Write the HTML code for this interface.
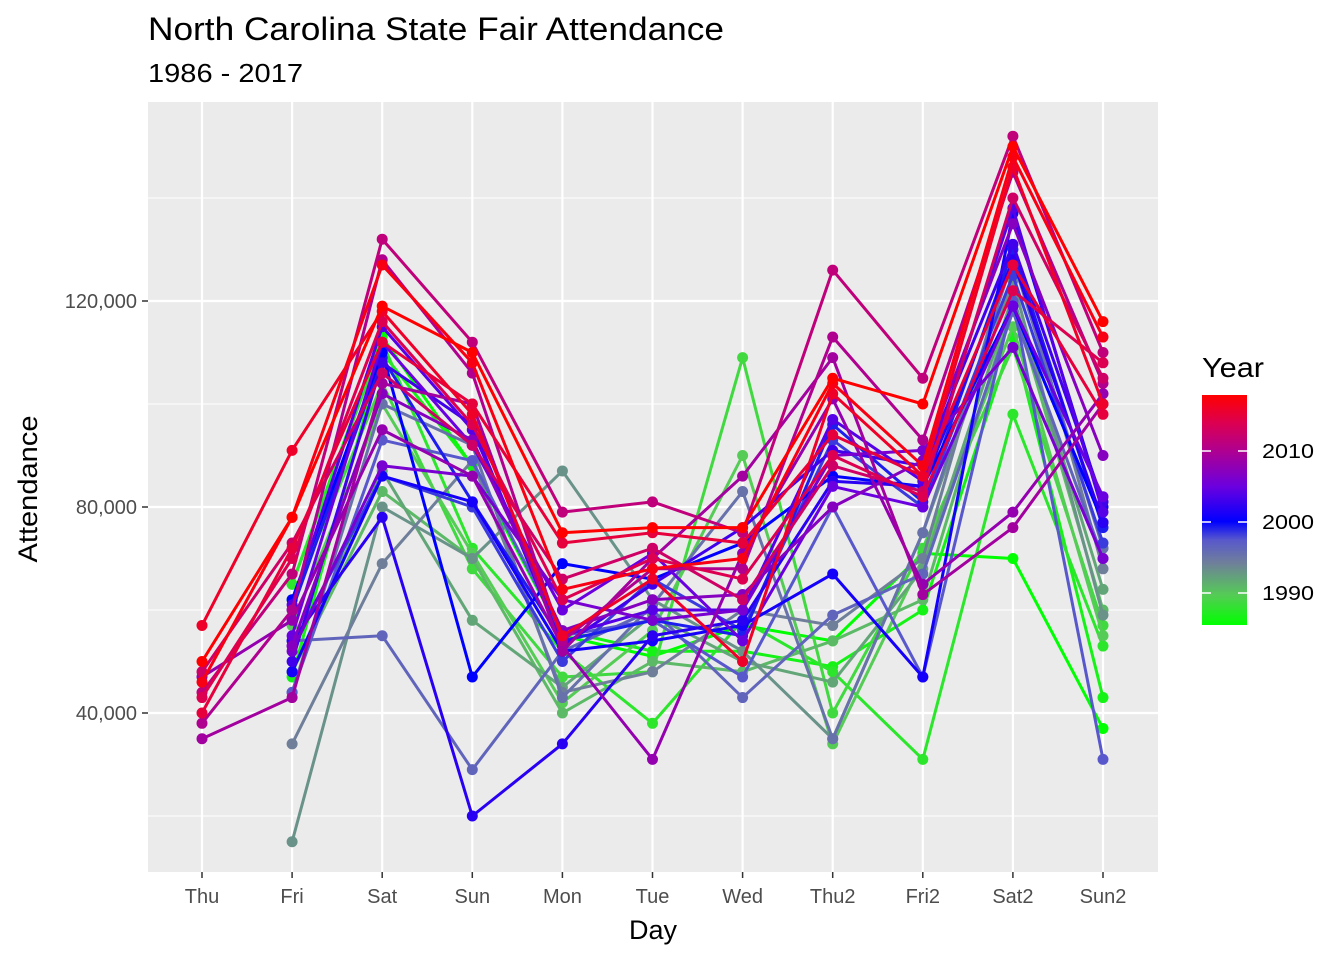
<!DOCTYPE html>
<html><head><meta charset="utf-8"><style>
body{margin:0;background:#fff;font-family:"Liberation Sans",Arial,sans-serif;}
</style></head><body>
<svg id="chart" width="1344" height="960" xmlns="http://www.w3.org/2000/svg" font-family="Liberation Sans, Arial, sans-serif">
<text x="148" y="40" font-size="32" fill="#000" textLength="576" lengthAdjust="spacingAndGlyphs">North Carolina State Fair Attendance</text>
<text x="148" y="82" font-size="26" fill="#000" textLength="155" lengthAdjust="spacingAndGlyphs">1986 - 2017</text>
<rect x="148" y="102" width="1010" height="770" fill="#ebebeb"/>
<g id="grid"></g>
<g id="series"></g>
<g id="axes"></g>
<text x="653" y="939" font-size="27" text-anchor="middle">Day</text>
<text transform="translate(37,489) rotate(-90)" font-size="27" text-anchor="middle" textLength="147" lengthAdjust="spacingAndGlyphs">Attendance</text>
<g>
<text x="1202" y="377" font-size="28" textLength="62" lengthAdjust="spacingAndGlyphs">Year</text>
<defs><linearGradient id="lg" x1="0" y1="1" x2="0" y2="0">
<stop offset="0" stop-color="#00ff00"/><stop offset="0.13" stop-color="#55cc55"/><stop offset="0.27" stop-color="#6f7f9a"/><stop offset="0.37" stop-color="#5858cc"/><stop offset="0.45" stop-color="#0000ff"/><stop offset="0.6" stop-color="#6a00e0"/><stop offset="0.76" stop-color="#b0008f"/><stop offset="0.88" stop-color="#dd0050"/><stop offset="1" stop-color="#ff0000"/></linearGradient></defs>
<rect x="1202" y="395" width="45" height="230" fill="url(#lg)"/>
<text x="1262" y="458" font-size="20" fill="#000" textLength="52" lengthAdjust="spacingAndGlyphs">2010</text>
<text x="1262" y="529" font-size="20" fill="#000" textLength="52" lengthAdjust="spacingAndGlyphs">2000</text>
<text x="1262" y="600" font-size="20" fill="#000" textLength="52" lengthAdjust="spacingAndGlyphs">1990</text>
<line x1="1202" x2="1211" y1="451" y2="451" stroke="#fff" stroke-width="1.5"/><line x1="1238" x2="1247" y1="451" y2="451" stroke="#fff" stroke-width="1.5"/>
<line x1="1202" x2="1211" y1="522" y2="522" stroke="#fff" stroke-width="1.5"/><line x1="1238" x2="1247" y1="522" y2="522" stroke="#fff" stroke-width="1.5"/>
<line x1="1202" x2="1211" y1="593" y2="593" stroke="#fff" stroke-width="1.5"/><line x1="1238" x2="1247" y1="593" y2="593" stroke="#fff" stroke-width="1.5"/>
</g>
</svg>
<script>
const days=["Thu","Fri","Sat","Sun","Mon","Tue","Wed","Thu2","Fri2","Sat2","Sun2"];
const yTicks=[40000,80000,120000];
const yTickLabels=["40,000","80,000","120,000"];
const yMinor=[20000,60000,100000,140000];
const years=[1986,1987,1988,1989,1990,1991,1992,1993,1994,1995,1996,1997,1998,1999,2000,2001,2002,2003,2004,2005,2006,2007,2008,2009,2010,2011,2012,2013,2014,2015,2016,2017];
const attendance=[
[null,65,113,88,55,51,57,54,71,70,37],
[null,47,110,88,56,52,52,49,60,113,43],
[null,65,112,72,52,38,58,48,31,98,53],
[null,62,104,68,47,48,109,40,72,111,57],
[null,57,100,71,42,56,90,34,70,115,55],
[null,48,83,70,40,50,48,54,62,120,60],
[null,48,87,58,45,59,50,46,68,121,64],
[null,15,80,70,87,62,52,35,75,124,59],
[null,34,69,89,44,48,60,57,70,131,68],
[null,44,100,92,43,61,83,35,75,128,72],
[null,54,55,29,52,60,43,59,67,118,70],
[null,44,93,89,55,58,47,80,47,120,31],
[null,53,86,80,50,66,56,93,80,125,73],
[null,60,109,81,54,58,55,96,81,130,76],
[null,62,110,47,69,66,73,86,84,119,77],
[null,48,86,81,52,54,57,67,47,137,80],
[null,54,78,20,34,55,58,85,84,128,77],
[null,50,108,96,53,65,76,91,88,131,81],
[null,61,115,95,55,60,60,97,85,138,79],
[null,55,112,92,60,71,54,84,80,119,82],
[null,52,88,86,62,58,60,90,91,111,70],
[null,53,102,93,56,62,63,80,89,135,90],
[47,58,95,86,53,31,71,101,65,79,102],
[35,43,104,100,52,70,86,109,63,76,100],
[38,60,128,106,54,68,68,113,93,145,104],
[44,67,132,112,79,81,75,126,105,152,110],
[48,73,106,92,66,72,62,88,83,140,105],
[43,70,116,96,62,70,66,90,82,122,108],
[40,72,112,100,73,75,73,94,86,127,98],
[57,91,118,98,55,66,50,102,86,146,100],
[46,78,127,108,64,68,70,104,88,148,113],
[50,78,119,110,75,76,76,105,100,150,116]
];
const NS="http://www.w3.org/2000/svg";
const xS=i=>202+i*90.1;
const yS=v=>713-(v-40000)*0.00515;
const stops=[[1986,[0,255,0]],[1990,[85,204,85]],[1994,[111,127,154]],[1997,[88,88,204]],[2000,[0,0,255]],[2005,[106,0,224]],[2010,[176,0,143]],[2013,[221,0,80]],[2017,[255,0,0]]];
function col(y){for(let i=0;i<stops.length-1;i++){const a=stops[i],b=stops[i+1];if(y<=b[0]){const t=(y-a[0])/(b[0]-a[0]);return "rgb("+a[1].map((c,k)=>Math.round(c+(b[1][k]-c)*t)).join(",")+")";}}return "rgb(255,0,0)";}
function mk(tag,attrs,parent){const e=document.createElementNS(NS,tag);for(const k in attrs)e.setAttribute(k,attrs[k]);parent.appendChild(e);return e;}
const grid=document.getElementById("grid"),axes=document.getElementById("axes"),ser=document.getElementById("series");
yMinor.forEach(v=>{const l=mk("line",{x1:148,x2:1158,y1:yS(v),y2:yS(v),stroke:"#fff","stroke-width":1},grid);

});
yTicks.forEach((v,i)=>{const l=mk("line",{x1:148,x2:1158,y1:yS(v),y2:yS(v),stroke:"#fff","stroke-width":2.2},grid);


const t=mk("text",{x:137,y:yS(v)+7,"font-size":20,fill:"#4d4d4d","text-anchor":"end"},axes);t.textContent=yTickLabels[i];


mk("line",{x1:142,x2:148,y1:yS(v),y2:yS(v),stroke:"#333","stroke-width":1.5},axes);});
days.forEach((d,i)=>{const l=mk("line",{x1:xS(i),x2:xS(i),y1:102,y2:872,stroke:"#fff","stroke-width":2.2},grid);


const t=mk("text",{x:xS(i),y:903,"font-size":20,fill:"#4d4d4d","text-anchor":"middle"},axes);t.textContent=d;


mk("line",{x1:xS(i),x2:xS(i),y1:872,y2:878,stroke:"#333","stroke-width":1.5},axes);});
years.forEach((yr,si)=>{const c=col(yr);const g=mk("g",{},ser);


const pts=[];attendance[si].forEach((v,i)=>{if(v!==null)pts.push([xS(i),yS(v*1000)]);});
const p=mk("polyline",{points:pts.map(q=>q.join(",")).join(" "),fill:"none",stroke:c,"stroke-width":3,"stroke-linejoin":"round"},g);


pts.forEach(q=>{const ci=mk("circle",{cx:q[0],cy:q[1],r:5.5,fill:c},g);

});});
</script>
</body></html>
